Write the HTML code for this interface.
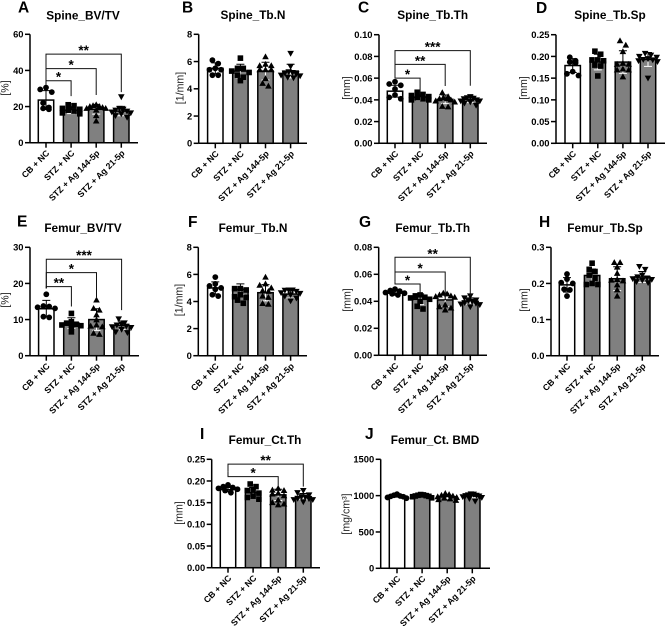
<!DOCTYPE html>
<html lang="en">
<head>
<meta charset="utf-8">
<title>Bone microarchitecture bar charts</title>
<style>
html,body{margin:0;padding:0;background:#fff;width:666px;height:626px;overflow:hidden}
svg{display:block;filter:blur(0.3px)}
text{font-family:"Liberation Sans",Arial,sans-serif;fill:#000}
</style>
</head>
<body>
<svg id="figure" xmlns="http://www.w3.org/2000/svg" width="666" height="626" viewBox="0 0 666 626"></svg>
<script>
const groupNames = ['CB + NC','STZ + NC','STZ + Ag 144-5p','STZ + Ag 21-5p'];

const spineBvTvTicks = ['0','20','40','60'];
const spineBvTvMeans = [23.6,18,18.5,17.5];
const spineBvTvSds = [5.2,1.9,2.7,2.6];
const spineBvTvPoints = [[30.5,29.5,28,22,19.5,19,18.5],[21,20.5,19,18.5,18,17.5,16.5,16],[21,20.5,20,20,19.5,19,19,18,15,12],[25.4,19,18.5,18,17.5,17,16.5,16,15,14]];
const spineBvTvSig = [[0,1,34.3,32,25.8,'*'],[0,2,41,32,26.4,'*'],[0,3,49,32,28,'**']];

const spineTbNTicks = ['0','2','4','6','8'];
const spineTbNMeans = [5.5,5.3,5.3,5.3];
const spineTbNSds = [0.4,0.5,0.65,0.5];
const spineTbNPoints = [[6.1,5.85,5.5,5.4,5.4,5,5],[6.25,5.5,5.5,5.3,5.2,5,4.85,4.6],[6.35,5.8,5.7,5.7,5.4,5.4,5.4,4.75,4.4,4.2],[6.6,5.65,5.25,5.2,5.15,5.1,5,4.95,4.85,4.8]];
const spineTbNSig = [];

const spineTbThTicks = ['0.00','0.02','0.04','0.06','0.08','0.10'];
const spineTbThMeans = [0.048,0.0425,0.0405,0.0405];
const spineTbThSds = [0.0055,0.003,0.004,0.003];
const spineTbThPoints = [[0.0567,0.0546,0.0534,0.05,0.0445,0.0423,0.041],[0.047,0.045,0.044,0.043,0.042,0.041,0.04,0.04],[0.0466,0.043,0.042,0.041,0.041,0.04,0.039,0.038,0.034,0.0335],[0.043,0.042,0.0415,0.041,0.04,0.039,0.039,0.038,0.037,0.035]];
const spineTbThSig = [[0,1,0.06,0.062,0.045,'*'],[0,2,0.0727,0.062,0.0528,'**'],[0,3,0.0853,0.062,0.053,'***']];

const spineTbSpTicks = ['0.00','0.05','0.10','0.15','0.20','0.25'];
const spineTbSpMeans = [0.179,0.187,0.187,0.193];
const spineTbSpSds = [0.016,0.018,0.026,0.016];
const spineTbSpPoints = [[0.198,0.19,0.187,0.185,0.165,0.16,0.156],[0.212,0.205,0.192,0.192,0.19,0.18,0.178,0.155],[0.236,0.226,0.211,0.184,0.182,0.182,0.171,0.169,0.169,0.153],[0.207,0.203,0.2,0.198,0.195,0.193,0.192,0.19,0.188,0.15]];
const spineTbSpSig = [];

const femurBvTvTicks = ['0','10','20','30'];
const femurBvTvMeans = [13,9,10,8.4];
const femurBvTvSds = [2.3,1.5,3,1.2];
const femurBvTvPoints = [[17,13.75,13.6,13.4,13.1,10.8,10.6],[11.7,9.4,9,8.7,8.5,8.3,7.9,6.6],[15.4,13.1,12.6,11.3,9.9,8.5,8.2,8,6.2,5.9],[10.2,9.1,8.7,8.5,8.2,8,7.8,7.3,6.6,6.4]];
const femurBvTvSig = [[0,1,19.1,18.6,13.6,'**'],[0,2,23,18.6,16.2,'*'],[0,3,26.7,18.6,12.6,'***']];

const femurTbNTicks = ['0','2','4','6','8'];
const femurTbNMeans = [5,4.9,4.65,4.55];
const femurTbNSds = [0.45,0.4,0.6,0.3];
const femurTbNPoints = [[5.8,5.3,5.15,5,4.9,4.5,4.4],[4.95,4.95,4.85,4.5,4.35,4.3,4.1,3.87],[5.8,5.3,5.2,5,4.8,4.75,4.4,4.3,3.85,3.8],[4.85,4.85,4.83,4.75,4.65,4.6,4.5,4.4,4.25,4.05]];
const femurTbNSig = [];

const femurTbThTicks = ['0.00','0.02','0.04','0.06','0.08'];
const femurTbThMeans = [0.046,0.0415,0.041,0.04];
const femurTbThSds = [0.0015,0.004,0.005,0.0025];
const femurTbThPoints = [[0.049,0.048,0.0475,0.0465,0.046,0.0455,0.0447],[0.0447,0.044,0.043,0.0425,0.0415,0.04,0.0363,0.0343],[0.046,0.0455,0.0447,0.044,0.0435,0.043,0.0373,0.036,0.035,0.0336],[0.044,0.0425,0.041,0.0405,0.04,0.039,0.0385,0.038,0.0375,0.036]];
const femurTbThSig = [[0,1,0.0528,0.0546,0.0447,'*'],[0,2,0.0617,0.0546,0.043,'*'],[0,3,0.0726,0.0546,0.044,'**']];

const femurTbSpTicks = ['0.0','0.1','0.2','0.3'];
const femurTbSpMeans = [0.196,0.222,0.213,0.218];
const femurTbSpSds = [0.02,0.018,0.033,0.015];
const femurTbSpPoints = [[0.226,0.212,0.202,0.2,0.184,0.182,0.165],[0.256,0.239,0.233,0.223,0.214,0.2,0.197,0.197],[0.258,0.258,0.245,0.228,0.211,0.209,0.207,0.196,0.182,0.165],[0.247,0.239,0.223,0.218,0.215,0.213,0.211,0.209,0.205,0.202]];
const femurTbSpSig = [];

const femurCtThTicks = ['0.00','0.05','0.10','0.15','0.20','0.25'];
const femurCtThMeans = [0.18,0.173,0.168,0.164];
const femurCtThSds = [0.005,0.012,0.013,0.007];
const femurCtThPoints = [[0.191,0.187,0.185,0.183,0.181,0.178,0.173],[0.193,0.187,0.179,0.178,0.172,0.165,0.162,0.158],[0.183,0.179,0.178,0.172,0.17,0.166,0.156,0.15,0.147,0.145],[0.178,0.173,0.168,0.164,0.163,0.16,0.159,0.157,0.157,0.152]];
const femurCtThSig = [[0,2,0.21,0.2215,0.189,'*'],[0,3,0.239,0.2215,0.187,'**']];

const femurCtBmdTicks = ['0','500','1000','1500'];
const femurCtBmdMeans = [995,998,985,993];
const femurCtBmdSds = [15,15,25,22];
const femurCtBmdPoints = [[1020,1005,995,990,985,975,965],[1015,1010,1005,1000,995,990,985,970],[1030,1015,1005,995,985,975,965,955,945,935],[1025,1020,1010,1005,1000,995,985,975,960,925]];
const femurCtBmdSig = [];

const panelDefs = [
 {key:'a',letter:'A',lx:18,ly:12.7,title:'Spine_BV/TV',tx:83,ty:19.5,unit:'[%]',ux:8.5,uy:88,ticks:spineBvTvTicks,means:spineBvTvMeans,sds:spineBvTvSds,points:spineBvTvPoints,sig:spineBvTvSig,ax:30,right:138,top:34.3,bottom:142.7,c0:46},
 {key:'b',letter:'B',lx:182,ly:12.7,title:'Spine_Tb.N',tx:253,ty:19,unit:'[1/mm]',ux:183.5,uy:88,ticks:spineTbNTicks,means:spineTbNMeans,sds:spineTbNSds,points:spineTbNPoints,sig:spineTbNSig,ax:198.7,right:307,top:34.3,bottom:143.3,c0:215.3},
 {key:'c',letter:'C',lx:358,ly:12.7,title:'Spine_Tb.Th',tx:432.7,ty:19,unit:'[mm]',ux:350,uy:88,ticks:spineTbThTicks,means:spineTbThMeans,sds:spineTbThSds,points:spineTbThPoints,sig:spineTbThSig,ax:379,right:487,top:34.7,bottom:143.3,c0:395},
 {key:'d',letter:'D',lx:536,ly:13,title:'Spine_Tb.Sp',tx:610,ty:19,unit:'[mm]',ux:527,uy:88,ticks:spineTbSpTicks,means:spineTbSpMeans,sds:spineTbSpSds,points:spineTbSpPoints,sig:spineTbSpSig,ax:556,right:665,top:34.7,bottom:143.3,c0:572.7},
 {key:'e',letter:'E',lx:17,ly:226.7,title:'Femur_BV/TV',tx:83,ty:232,unit:'[%]',ux:8.5,uy:300,ticks:femurBvTvTicks,means:femurBvTvMeans,sds:femurBvTvSds,points:femurBvTvPoints,sig:femurBvTvSig,ax:30,right:139,top:247.3,bottom:355.7,c0:46.3},
 {key:'f',letter:'F',lx:188,ly:227,title:'Femur_Tb.N',tx:253,ty:232,unit:'[1/mm]',ux:182.5,uy:300,ticks:femurTbNTicks,means:femurTbNMeans,sds:femurTbNSds,points:femurTbNPoints,sig:femurTbNSig,ax:198.3,right:307,top:247.3,bottom:355.7,c0:215.3},
 {key:'g',letter:'G',lx:359,ly:227,title:'Femur_Tb.Th',tx:432.7,ty:232,unit:'[mm]',ux:350.5,uy:300,ticks:femurTbThTicks,means:femurTbThMeans,sds:femurTbThSds,points:femurTbThPoints,sig:femurTbThSig,ax:378.7,right:487,top:247.3,bottom:355.3,c0:395},
 {key:'h',letter:'H',lx:539,ly:227,title:'Femur_Tb.Sp',tx:605,ty:232,unit:'[mm]',ux:527.5,uy:300,ticks:femurTbSpTicks,means:femurTbSpMeans,sds:femurTbSpSds,points:femurTbSpPoints,sig:femurTbSpSig,ax:551,right:659,top:247.3,bottom:355.7,c0:567},
 {key:'i',letter:'I',lx:200,ly:439,title:'Femur_Ct.Th',tx:265,ty:444,unit:'[mm]',ux:182.5,uy:513,ticks:femurCtThTicks,means:femurCtThMeans,sds:femurCtThSds,points:femurCtThPoints,sig:femurCtThSig,ax:211.7,right:320,top:459.3,bottom:567.7,c0:228},
 {key:'j',letter:'J',lx:365,ly:439,title:'Femur_Ct. BMD',tx:435,ty:444,unit:'[mg/cm³]',ux:349.5,uy:514,ticks:femurCtBmdTicks,means:femurCtBmdMeans,sds:femurCtBmdSds,points:femurCtBmdPoints,sig:femurCtBmdSig,ax:380.7,right:490,top:459.3,bottom:568.3,c0:397}
];

const SVG_NS = 'http://www.w3.org/2000/svg';
const figure = document.getElementById('figure');
const GROUP_STEP = 25.1, BAR_W = 15.4, INK = '#000', BAR_GRAY = '#808080', STROKE = 1.5;

function mk(parent, tag, attrs, text) {
  const el = document.createElementNS(SVG_NS, tag);
  for (const k in attrs) el.setAttribute(k, attrs[k]);
  if (text !== undefined) el.textContent = text;
  parent.appendChild(el);
  return el;
}

function swarm(values, scale, cx) {
  const sorted = values.slice().sort((a, b) => b - a);
  const bins = [];
  sorted.forEach(v => {
    const bin = bins[bins.length - 1];
    if (bin && scale(v) - scale(bin[0]) < 4.6) bin.push(v);
    else bins.push([v]);
  });
  const out = [];
  bins.forEach(bin => {
    const n = bin.length;
    const gap = n > 1 ? Math.min(5.8, 19 / (n - 1)) : 0;
    const offsets = bin.map((v, i) => (i - (n - 1) / 2) * gap).sort((a, b) => Math.abs(a) - Math.abs(b));
    bin.forEach((v, i) => out.push({v: v, x: cx + offsets[i]}));
  });
  return out;
}

function drawMarker(parent, shape, x, y) {
  if (shape === 0) return mk(parent, 'circle', {cx: x, cy: y, r: 2.9, fill: INK});
  if (shape === 1) return mk(parent, 'rect', {x: x - 2.8, y: y - 2.8, width: 5.6, height: 5.6, fill: INK});
  if (shape === 2) return mk(parent, 'polygon', {points: `${x},${y - 3.4} ${x + 3.3},${y + 2.5} ${x - 3.3},${y + 2.5}`, fill: INK});
  return mk(parent, 'polygon', {points: `${x},${y + 3.4} ${x + 3.3},${y - 2.5} ${x - 3.3},${y - 2.5}`, fill: INK});
}

panelDefs.forEach(p => {
  const tickValues = p.ticks.map(Number);
  const maxVal = tickValues[tickValues.length - 1];
  const yScale = v => p.bottom - (v / maxVal) * (p.bottom - p.top);
  const xScale = i => p.c0 + i * GROUP_STEP;

  const g = mk(figure, 'g', {});
  
  

  const letter = mk(g, 'text', {x: p.lx, y: p.ly, 'font-size': 15.5, 'font-weight': 'bold'}, p.letter);
  
  

  const title = mk(g, 'text', {x: p.tx, y: p.ty, 'font-size': 11.8, 'font-weight': 'bold', 'text-anchor': 'middle'}, p.title);
  
  

  const unit = mk(g, 'text', {x: p.ux, y: p.uy, 'font-size': 10.6, 'text-anchor': 'middle', transform: `rotate(-90 ${p.ux} ${p.uy})`}, p.unit);
  unit.style.fill = '#222';
  
  

  p.means.forEach((m, i) => {
    const cx = xScale(i), yTop = yScale(m);
    const bar = mk(g, 'rect', {x: cx - BAR_W / 2, y: yTop, width: BAR_W, height: p.bottom - yTop, fill: i === 0 ? '#fff' : BAR_GRAY, stroke: INK, 'stroke-width': STROKE});
    
    

    const yHi = yScale(m + p.sds[i]), yLo = yScale(m - p.sds[i]);
    const errDown = mk(g, 'path', {d: `M${cx} ${yTop}V${yLo}M${cx - 4} ${yLo}H${cx + 4}`, stroke: i === 0 ? INK : '#fff', 'stroke-width': 1, fill: 'none'});
    
    

    swarm(p.points[i], yScale, cx).forEach(pt => {
      const marker = drawMarker(g, i, pt.x, yScale(pt.v));
      
      
    });

    const errUp = mk(g, 'path', {d: `M${cx} ${yTop}V${yHi}M${cx - 4} ${yHi}H${cx + 4}`, stroke: INK, 'stroke-width': 1, fill: 'none'});
    
    
  });

  const yAxis = mk(g, 'line', {x1: p.ax, x2: p.ax, y1: p.top, y2: p.bottom, stroke: INK, 'stroke-width': STROKE});
  
  
  const xAxis = mk(g, 'line', {x1: p.ax, x2: p.right, y1: p.bottom, y2: p.bottom, stroke: INK, 'stroke-width': STROKE});
  
  

  p.ticks.forEach((label, i) => {
    const y = yScale(tickValues[i]);
    const tick = mk(g, 'line', {x1: p.ax - 5, x2: p.ax, y1: y, y2: y, stroke: INK, 'stroke-width': STROKE});
    
    
    const tl = mk(g, 'text', {x: p.ax - 6.5, y: y + 3.4, 'font-size': 9.4, 'font-weight': 'bold', 'text-anchor': 'end'}, label);
    
    
  });

  groupNames.forEach((name, i) => {
    const cx = xScale(i);
    const tick = mk(g, 'line', {x1: cx, x2: cx, y1: p.bottom, y2: p.bottom + 5, stroke: INK, 'stroke-width': STROKE});
    
    
    const ex = cx + 4, ey = p.bottom + 11;
    const tl = mk(g, 'text', {x: ex, y: ey, 'font-size': 8.7, 'font-weight': 'bold', 'text-anchor': 'end', transform: `rotate(-45 ${ex} ${ey})`}, name);
    
    
  });

  p.sig.forEach(row => {
    const xa = xScale(row[0]), xb = xScale(row[1]);
    const yb = yScale(row[2]), yl = yScale(row[3]), yr = yScale(row[4]);
    const bracket = mk(g, 'path', {d: `M${xa} ${yl}V${yb}H${xb}V${yr}`, stroke: '#111', 'stroke-width': 1, fill: 'none'});
    
    
    const star = mk(g, 'text', {x: (xa + xb) / 2, y: yb + 1, 'font-size': 13.5, 'font-weight': 'bold', 'text-anchor': 'middle'}, row[5]);
    
    
  });
});
</script>
</body>
</html>
